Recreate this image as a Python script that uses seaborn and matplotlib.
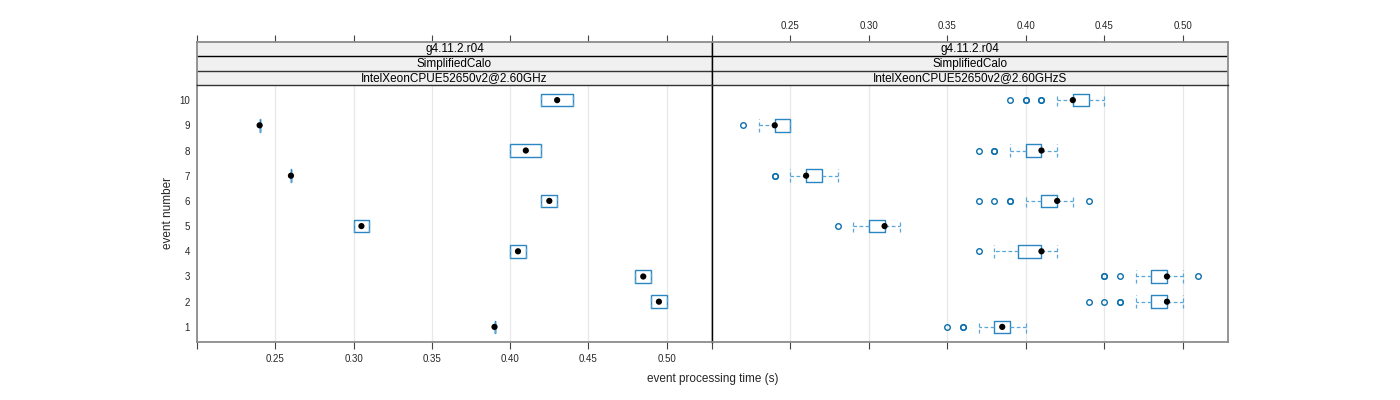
import numpy as np
import pandas as pd
import matplotlib
matplotlib.use("Agg")
import matplotlib.pyplot as plt
import seaborn as sns
from matplotlib import font_manager

# ---------------- data (event processing time in seconds) ----------------
events = [1, 2, 3, 4, 5, 6, 7, 8, 9, 10]

left_values = {
    10: [0.42, 0.44], 9: [0.24], 8: [0.40, 0.42], 7: [0.26], 6: [0.42, 0.43],
    5: [0.30, 0.31], 4: [0.40, 0.41], 3: [0.48, 0.49], 2: [0.49, 0.50], 1: [0.39],
}
left_counts = {
    10: [2, 2], 9: [2], 8: [2, 2], 7: [2], 6: [2, 2],
    5: [2, 2], 4: [2, 2], 3: [2, 2], 2: [2, 2], 1: [2],
}

right_values = {
    10: [0.39, 0.40, 0.41, 0.42, 0.43, 0.44, 0.45],
    9: [0.22, 0.23, 0.24, 0.25],
    8: [0.37, 0.38, 0.39, 0.40, 0.41, 0.42],
    7: [0.24, 0.25, 0.26, 0.27, 0.28],
    6: [0.37, 0.38, 0.39, 0.40, 0.41, 0.42, 0.43, 0.44],
    5: [0.28, 0.29, 0.30, 0.31, 0.32],
    4: [0.37, 0.38, 0.39, 0.40, 0.41, 0.42],
    3: [0.45, 0.46, 0.47, 0.48, 0.49, 0.50, 0.51],
    2: [0.44, 0.45, 0.46, 0.47, 0.48, 0.49, 0.50],
    1: [0.35, 0.36, 0.37, 0.38, 0.39, 0.40],
}
right_counts = {
    10: [1, 2, 2, 1, 9, 13, 1],
    9: [1, 1, 13, 14],
    8: [1, 2, 1, 10, 14, 1],
    7: [2, 1, 12, 13, 1],
    6: [1, 1, 2, 1, 9, 13, 1, 1],
    5: [1, 1, 12, 14, 1],
    4: [1, 1, 6, 7, 15, 1],
    3: [2, 1, 1, 10, 13, 1, 1],
    2: [1, 1, 2, 1, 9, 14, 1],
    1: [1, 2, 1, 11, 14, 1],
}

strip_top = ["g4.11.2.r04", "g4.11.2.r04"]
strip_mid = ["SimplifiedCalo", "SimplifiedCalo"]
strip_bot = ["IntelXeonCPUE52650v2@2.60GHz", "IntelXeonCPUE52650v2@2.60GHzS"]
x_ticks = [0.20, 0.25, 0.30, 0.35, 0.40, 0.45, 0.50]
x_ticklabels = ["", "0.25", "0.30", "0.35", "0.40", "0.45", "0.50"]
y_ticklabels = [str(e) for e in events]
x_label = "event processing time (s)"
y_label = "event number"


def build(values, counts):
    rows = []
    for ev in events:
        t = np.repeat(values[ev], counts[ev])
        rows.append(pd.DataFrame({"event": ev, "time": t}))
    return pd.concat(rows, ignore_index=True)


df_left = build(left_values, left_counts)
df_right = build(right_values, right_counts)

# ---------------- style ----------------
sns.set_theme(style="white")
names = {f.name for f in font_manager.fontManager.ttflist}
fam = "Liberation Sans Narrow" if "Liberation Sans Narrow" in names else "Liberation Sans"
plt.rcParams["font.family"] = [fam, "DejaVu Sans"]

BOX = "#2a86c0"
WHISK = "#5aa6d6"
FLIER = "#0b6fae"
FRAME = "#8c8c8c"
XLIM = (0.20, 0.5289)
YLIM = (0.4, 10.6)

W, H = 1400, 400
fig = plt.figure(figsize=(W / 100, H / 100), dpi=100)


def px_axes(x0, y0, x1, y1):
    return fig.add_axes([x0 / W, 1 - y1 / H, (x1 - x0) / W, (y1 - y0) / H])


panels = [(197, 712, df_left), (712, 1228, df_right)]
for i, (x0, x1, df) in enumerate(panels):
    ax = px_axes(x0, 85, x1, 342)
    sns.boxplot(
        data=df, x="time", y="event", orient="h", native_scale=True,
        width=0.5, whis=1.5, fill=False, color=BOX, linewidth=1.0,
        fliersize=4, ax=ax, capwidths=0.5,
        whiskerprops=dict(color=WHISK, linestyle=(0, (3, 2)), linewidth=0.9),
        capprops=dict(color=WHISK, linestyle=(0, (3, 2)), linewidth=0.9),
        medianprops=dict(visible=False),
        flierprops=dict(marker="o", markerfacecolor="none", markeredgecolor=FLIER,
                        markeredgewidth=1.0, markersize=4),
    )
    meds = df.groupby("event", as_index=False)["time"].median()
    sns.scatterplot(data=meds, x="time", y="event", color="black", s=20,
                    edgecolor="none", ax=ax, legend=False, zorder=6)
    ax.set_xlim(*XLIM)
    ax.set_ylim(*YLIM)
    ax.set_xticks(x_ticks)
    ax.grid(axis="x", color="#e8e8e8", linewidth=0.9)
    ax.grid(axis="y", visible=False)
    ax.set_axisbelow(True)
    ax.set_xlabel("")
    ax.set_ylabel("")
    ax.set_yticks(events)
    ax.tick_params(axis="x", which="both", bottom=True, length=5, width=0.8,
                   color="#444444", labelsize=7, pad=4, direction="out")
    ax.tick_params(axis="y", length=0, labelsize=7, pad=5)
    if i == 0:
        ax.set_xticklabels(x_ticklabels)
        ax.set_yticklabels(y_ticklabels)
    else:
        ax.set_xticklabels([""] * len(x_ticks))
        ax.set_yticklabels([""] * len(events))
    for s in ax.spines.values():
        s.set_color(FRAME)
        s.set_linewidth(1.3)
    if i == 0:
        ax.spines["right"].set_color("black")
        ax.spines["right"].set_linewidth(1.0)
    else:
        ax.spines["left"].set_color("black")
        ax.spines["left"].set_linewidth(1.0)

    # strips
    sx = px_axes(x0, 42, x1, 85)
    sx.set_facecolor("#f0f0f0")
    sx.set_xlim(*XLIM)
    sx.set_ylim(0, 3)
    sx.axhline(1, color="#333333", lw=1.0)
    sx.axhline(2, color="black", lw=1.0)
    xm = (XLIM[0] + XLIM[1]) / 2
    for yy, txt in [(2.5, strip_top[i]), (1.5, strip_mid[i]), (0.5, strip_bot[i])]:
        sx.text(xm, yy, txt, ha="center", va="center", fontsize=8.5, color="black")
    sx.set_yticks([])
    sx.xaxis.tick_top()
    sx.set_xticks(x_ticks)
    sx.tick_params(axis="x", top=True, bottom=False, length=5, width=0.8,
                   color="#444444", labelsize=7, pad=3, direction="out")
    if i == 1:
        sx.set_xticklabels(x_ticklabels)
    else:
        sx.set_xticklabels([""] * len(x_ticks))
    for s in sx.spines.values():
        s.set_color(FRAME)
        s.set_linewidth(1.3)
    sx.spines["bottom"].set_color("#333333")
    sx.spines["bottom"].set_linewidth(1.0)
    if i == 0:
        sx.spines["right"].set_color("black")
        sx.spines["right"].set_linewidth(1.0)
    else:
        sx.spines["left"].set_color("black")
        sx.spines["left"].set_linewidth(1.0)

fig.text(712.5 / W, 1 - 379 / H, x_label, ha="center", va="center", fontsize=8.5)
fig.text(168 / W, 1 - 213 / H, y_label, ha="center", va="center", rotation=90, fontsize=8.5)

fig.savefig("out.png", dpi=100)
